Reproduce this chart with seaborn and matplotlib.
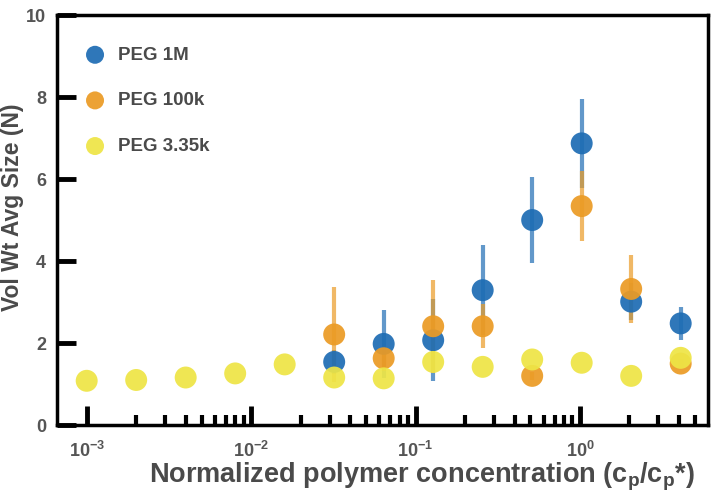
import numpy as np
import pandas as pd
import seaborn as sns
import matplotlib.pyplot as plt
from matplotlib.ticker import FixedLocator, LogLocator, NullFormatter

# concentrations (c_p / c_p*)
conc = [0.001, 0.002, 0.004, 0.008, 0.016, 0.032, 0.064,
        0.128, 0.256, 0.512, 1.024, 2.048, 4.096]

# PEG 1M (starts at 0.032)
peg1m_x = conc[5:]
peg1m_y = [1.54, 1.98, 2.07, 3.29, 5.00, 6.87, 3.01, 2.48]
peg1m_err = [0.30, 0.82, 1.00, 1.10, 1.05, 1.08, 0.45, 0.40]

# PEG 100k
peg100k_x = conc[5:]
peg100k_y = [2.21, 1.63, 2.41, 2.41, 1.20, 5.34, 3.32, 1.50]
peg100k_err = [1.16, 0.30, 1.13, 0.54, 0.10, 0.85, 0.83, 0.10]

# PEG 3.35k
peg3k_x = conc
peg3k_y = [1.08, 1.10, 1.16, 1.26, 1.48, 1.16, 1.14,
           1.54, 1.42, 1.60, 1.52, 1.20, 1.64]

labels = ['PEG 1M', 'PEG 100k', 'PEG 3.35k']
colors = ['#1f6db4', '#eb9b25', '#eee546']

# minor tick positions between decades
minor_ticks = [m * d for d in [0.001, 0.01, 0.1, 1.0] for m in range(2, 10) if m * d < 6]

df = pd.concat([
    pd.DataFrame({'x': peg1m_x, 'y': peg1m_y, 'err': peg1m_err, 'series': labels[0]}),
    pd.DataFrame({'x': peg100k_x, 'y': peg100k_y, 'err': peg100k_err, 'series': labels[1]}),
    pd.DataFrame({'x': peg3k_x, 'y': peg3k_y, 'err': np.nan, 'series': labels[2]}),
])

sns.set_style('ticks')
plt.rcParams['font.family'] = ['Liberation Sans', 'DejaVu Sans']
plt.rcParams['font.weight'] = 'bold'
plt.rcParams['mathtext.fontset'] = 'custom'
plt.rcParams['mathtext.rm'] = 'Liberation Sans:bold'
plt.rcParams['mathtext.it'] = 'Liberation Sans:bold'
plt.rcParams['mathtext.bf'] = 'Liberation Sans:bold'

fig = plt.figure(figsize=(7.18, 4.92), dpi=100)
ax = fig.add_axes([0.0794, 0.136, 0.9066, 0.8335])

for lab, col in zip(labels, colors):
    sub = df[df['series'] == lab]
    if sub['err'].notna().any():
        ax.errorbar(sub['x'], sub['y'], yerr=sub['err'], fmt='none',
                    ecolor=col, elinewidth=3, alpha=0.7, capsize=0, zorder=2)
    sns.scatterplot(data=sub, x='x', y='y', color=col, s=250, alpha=0.93,
                    edgecolor='none', ax=ax, zorder=3, label=lab)

ax.set_xscale('log')
ax.set_xlim(6.6e-4, 6.0)
ax.set_ylim(0, 10)
ax.set_yticks([0, 2, 4, 6, 8, 10])

ax.xaxis.set_major_locator(LogLocator(base=10, numticks=10))
ax.xaxis.set_minor_locator(FixedLocator(minor_ticks))
ax.xaxis.set_minor_formatter(NullFormatter())

ax.tick_params(axis='both', which='major', direction='in', length=14, width=3.5,
               color='black', labelsize=13, labelcolor='#555555', pad=8)
ax.tick_params(axis='x', which='major', pad=11.5)
ax.tick_params(axis='x', which='minor', direction='in', length=7, width=3, color='black')
ax.tick_params(axis='y', which='minor', left=False)

for side in ['left', 'bottom', 'top', 'right']:
    ax.spines[side].set_linewidth(2.5)
    ax.spines[side].set_color('black')

ax.set_xlabel('Normalized polymer concentration (c$_\\mathregular{p}$/c$_\\mathregular{p}$*)',
              fontsize=19.5, fontweight='bold', color='#4a4a4a')
ax.set_ylabel('Vol Wt Avg Size (N)', fontsize=16.5, fontweight='bold', color='#4a4a4a')
ax.xaxis.set_label_coords(0.56, -0.087)
ax.yaxis.set_label_coords(-0.051, 0.53)

leg = ax.legend(loc='upper left', frameon=False, fontsize=13.5, labelspacing=1.52,
                handlelength=1.0, handletextpad=0.7, borderpad=0, borderaxespad=0,
                markerscale=0.82, bbox_to_anchor=(0.044, 0.923))
for t in leg.get_texts():
    t.set_color('#4a4a4a')
    t.set_fontweight('bold')

fig.savefig('out.png', dpi=100)
